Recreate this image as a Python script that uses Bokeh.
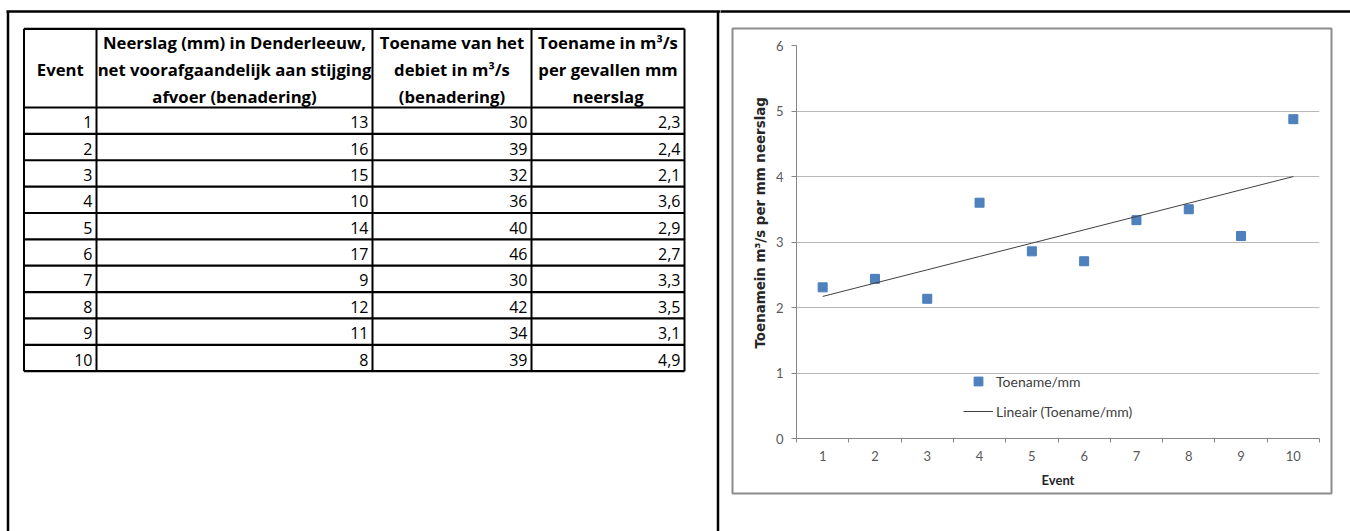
import numpy as np
from bokeh.plotting import figure
from bokeh.layouts import row
from bokeh.models import Range1d, FixedTicker, Legend, LegendItem, Title
from bokeh.core.properties import value
from bokeh.embed import file_html
from bokeh.resources import INLINE

# ---- data -------------------------------------------------------------
events = [1, 2, 3, 4, 5, 6, 7, 8, 9, 10]
neerslag_mm = [13, 16, 15, 10, 14, 17, 9, 12, 11, 8]
debiet_toename = [30, 39, 32, 36, 40, 46, 30, 42, 34, 39]
# increase in discharge per mm of rain
toename_per_mm = [d / n for d, n in zip(debiet_toename, neerslag_mm)]

header_lines = [
    ["Event"],
    ["Neerslag (mm) in Denderleeuw,", "net voorafgaandelijk aan stijging", "afvoer (benadering)"],
    ["Toename van het", "debiet in m³/s", "(benadering)"],
    ["Toename in m³/s", "per gevallen mm", "neerslag"],
]
y_ticks = [0, 1, 2, 3, 4, 5, 6]
x_title = "Event"
y_title = "Toenamein m³/s per mm neerslag"
series_label = "Toename/mm"
trend_label = "Lineair (Toename/mm)"

FONT = "Lato"
TABLE_FONT = "Open Sans"

# shared panel geometry (both panels keep the same frame borders in a row)
PAGE_H = 531
FRAME_TOP, FRAME_BOTTOM = 45, 438

# ---- left panel: page frame + table (pixel coordinates) ---------------
tbl = figure(width=720, height=PAGE_H, x_range=Range1d(0, 720),
             y_range=Range1d(FRAME_BOTTOM, FRAME_TOP),
             min_border_left=0, min_border_right=0,
             min_border_top=FRAME_TOP, min_border_bottom=PAGE_H - FRAME_BOTTOM,
             toolbar_location=None, output_backend="svg",
             x_axis_type=None, y_axis_type=None, outline_line_color=None)
tbl.background_fill_color = "white"
tbl.border_fill_color = "white"

# page frame
tbl.segment(x0=[6, 7.5, 717.5], y0=[11, 11, 11], x1=[720, 7.5, 717.5], y1=[11, 531, 531],
            line_color="black", line_width=2.5, level="overlay")

col_x = [23.5, 96, 372, 531, 684]
head_top, head_bot, row_h = 28.3, 107.0, 26.37
n_rows = len(events)
row_y = [head_top, head_bot] + [head_bot + row_h * (k + 1) for k in range(n_rows)]

tbl.segment(x0=[col_x[0]] * len(row_y), y0=row_y, x1=[col_x[-1]] * len(row_y), y1=row_y,
            line_color="black", line_width=2.2, level="overlay")
tbl.segment(x0=col_x, y0=[head_top] * len(col_x), x1=col_x, y1=[row_y[-1]] * len(col_x),
            line_color="black", line_width=2, level="overlay")

# header text
hx, hy, ht = [], [], []
line_centres = [41.5, 68.5, 95.5]
for i, lines in enumerate(header_lines):
    cx = (col_x[i] + col_x[i + 1]) / 2
    ys = [line_centres[1]] if len(lines) == 1 else line_centres
    for txt, yy in zip(lines, ys):
        hx.append(cx); hy.append(yy); ht.append(txt)
tbl.text(x=hx, y=hy, text=ht, text_align="center", text_baseline="middle",
         text_font=value(TABLE_FONT), text_font_style="bold", text_font_size="16.7px",
         text_color="black", level="overlay")

# body text
bx, by, bt = [], [], []
for r in range(n_rows):
    yy = head_bot + row_h * (r + 0.5) + 1.5
    cells = [str(events[r]), str(neerslag_mm[r]), str(debiet_toename[r]),
             f"{toename_per_mm[r]:.1f}".replace(".", ",")]
    for i, txt in enumerate(cells):
        bx.append(col_x[i + 1] - 4); by.append(yy); bt.append(txt)
tbl.text(x=bx, y=by, text=bt, text_align="right", text_baseline="middle",
         text_font=value(TABLE_FONT), text_font_size="16px", text_color="black", level="overlay")

# ---- right panel: scatter chart with linear trend ----------------------
ch = figure(width=630, height=PAGE_H, x_range=Range1d(0.5, 10.5), y_range=Range1d(0, 6),
            min_border_left=76, min_border_right=31,
            min_border_top=FRAME_TOP, min_border_bottom=PAGE_H - FRAME_BOTTOM,
            toolbar_location=None, output_backend="svg", outline_line_color=None)
ch.background_fill_color = "white"
ch.border_fill_color = "white"

boundaries = [e - 0.5 for e in events] + [events[-1] + 0.5]
ch.xaxis.ticker = FixedTicker(ticks=events, minor_ticks=boundaries)
ch.xaxis.major_tick_out = 0
ch.xaxis.major_tick_in = 0
ch.xaxis.minor_tick_out = 4
ch.xaxis.minor_tick_in = 0
ch.xaxis.minor_tick_line_color = "#868686"
ch.xaxis.axis_line_color = "#868686"
ch.xaxis.major_label_standoff = 8
ch.xaxis.major_label_text_font = FONT
ch.xaxis.major_label_text_font_size = "13px"
ch.xaxis.major_label_text_color = "#595959"
ch.xaxis.axis_label = x_title
ch.xaxis.axis_label_standoff = 8
ch.xaxis.axis_label_text_font = FONT
ch.xaxis.axis_label_text_font_size = "13px"
ch.xaxis.axis_label_text_font_style = "bold"
ch.xaxis.axis_label_text_color = "#262626"

ch.yaxis.ticker = FixedTicker(ticks=y_ticks)
ch.yaxis.major_tick_out = 5
ch.yaxis.major_tick_in = 0
ch.yaxis.minor_tick_line_color = None
ch.yaxis.major_tick_line_color = "#868686"
ch.yaxis.axis_line_color = "#868686"
ch.yaxis.major_label_standoff = 8
ch.yaxis.major_label_text_font = FONT
ch.yaxis.major_label_text_font_size = "13px"
ch.yaxis.major_label_text_color = "#595959"

ch.xgrid.visible = False
ch.ygrid.ticker = FixedTicker(ticks=y_ticks[1:])
ch.ygrid.grid_line_color = "#B8B8B8"
ch.ygrid.grid_line_width = 1

ch.add_layout(Title(text=y_title, align="left", offset=90, text_font="DejaVu Sans",
                    text_font_size="13.4px", text_font_style="bold", text_color="#262626"), "left")

sc = ch.scatter(events, toename_per_mm, marker="square", size=9,
                fill_color="#4F81BD", line_color="#4A7EBB")
slope, intercept = np.polyfit(events, toename_per_mm, 1)
trend = [intercept + slope * e for e in events]
tr = ch.line(events, trend, line_color="#404040", line_width=1)

leg = Legend(items=[LegendItem(label=series_label, renderers=[sc]),
                    LegendItem(label=trend_label, renderers=[tr])],
             location=(167, 16), glyph_width=30, glyph_height=22, label_height=22,
             spacing=8, padding=0, margin=0, border_line_color=None,
             background_fill_alpha=0, label_standoff=3,
             label_text_font=FONT, label_text_font_size="14px", label_text_color="#404040")
ch.add_layout(leg)

# chart-area border and the page frame's top edge, in panel pixels
ch.extra_x_ranges = {"px": Range1d(76, 599)}
ch.extra_y_ranges = {"py": Range1d(FRAME_BOTTOM, FRAME_TOP)}
ch.quad(left=12, right=611, top=28, bottom=493, fill_color=None, line_color="#8C8C8C",
        line_width=2, x_range_name="px", y_range_name="py", level="overlay")
ch.segment(x0=0, y0=11, x1=630, y1=11, line_color="black", line_width=2.5,
           x_range_name="px", y_range_name="py", level="overlay")

page = row(tbl, ch)
open("out.html", "w").write(file_html(page, INLINE))
